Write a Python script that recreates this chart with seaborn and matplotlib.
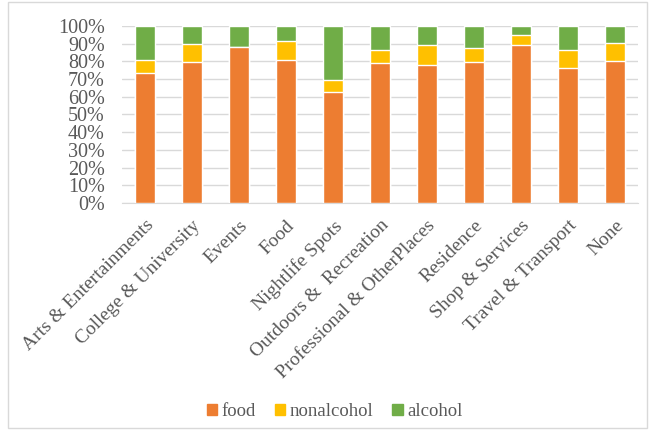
import numpy as np
import pandas as pd
import seaborn as sns
from matplotlib import pyplot as plt
from matplotlib.ticker import PercentFormatter
from matplotlib.patches import Patch, Rectangle

categories = ['Arts & Entertainments', 'College & University', 'Events', 'Food',
              'Nightlife Spots', 'Outdoors &  Recreation', 'Professional & OtherPlaces',
              'Residence', 'Shop & Services', 'Travel & Transport', 'None']
food = [0.733, 0.793, 0.878, 0.805, 0.624, 0.788, 0.776, 0.793, 0.891, 0.759, 0.799]
nonalcohol = [0.075, 0.104, 0.002, 0.112, 0.071, 0.073, 0.115, 0.083, 0.056, 0.102, 0.105]
alcohol = [1 - f - n for f, n in zip(food, nonalcohol)]

colors = {'food': '#ED7D31', 'nonalcohol': '#FFC000', 'alcohol': '#70AD47'}

df = pd.DataFrame({'cat': categories, 'food': food,
                   'nonalcohol': nonalcohol, 'alcohol': alcohol})
df['top_non'] = df['food'] + df['nonalcohol']
df['top_all'] = df['top_non'] + df['alcohol']

sns.set_style('white')
plt.rcParams['font.family'] = ['Liberation Serif', 'DejaVu Serif']

fig = plt.figure(figsize=(6.5, 4.3), dpi=100)
ax = fig.add_axes([0.187, 0.528, 0.795, 0.412])

# stacked bars drawn as overlapping cumulative bars
sns.barplot(data=df, x='cat', y='top_all', color=colors['alcohol'], width=0.42,
            saturation=1, ax=ax, zorder=3)
sns.barplot(data=df, x='cat', y='top_non', color=colors['nonalcohol'], width=0.42,
            saturation=1, ax=ax, zorder=3)
sns.barplot(data=df, x='cat', y='food', color=colors['food'], width=0.42,
            saturation=1, ax=ax, zorder=3)

ax.set_ylim(0, 1)
ax.set_xlim(-0.5, len(categories) - 0.5)
ax.set_yticks(np.arange(0, 1.01, 0.1))
ax.yaxis.set_major_formatter(PercentFormatter(1, decimals=0))
ax.grid(axis='y', color='#D9D9D9', linewidth=1, zorder=0)
ax.set_axisbelow(True)
for s in ['top', 'right', 'left']:
    ax.spines[s].set_visible(False)
ax.spines['bottom'].set_color('#D9D9D9')
ax.set_xlabel('')
ax.set_ylabel('')
ax.tick_params(axis='y', colors='#595959', labelsize=14.5, length=0, pad=12)
ax.tick_params(axis='x', colors='#595959', labelsize=14, length=0, pad=10)
plt.setp(ax.get_xticklabels(), rotation=45, ha='right', rotation_mode='anchor')

handles = [Patch(color=colors[k], label=k) for k in ['food', 'nonalcohol', 'alcohol']]
fig.legend(handles=handles, loc='center', bbox_to_anchor=(0.515, 0.042), ncol=3,
           frameon=False, fontsize=13.5, handlelength=0.55, handleheight=0.55,
           handletextpad=0.25, columnspacing=1.0, labelcolor='#595959')

fig.patches.append(Rectangle((0.012, 0.005), 0.983, 0.99, transform=fig.transFigure,
                             fill=False, edgecolor='#D9D9D9', linewidth=1))

fig.savefig('out.png', dpi=100)
